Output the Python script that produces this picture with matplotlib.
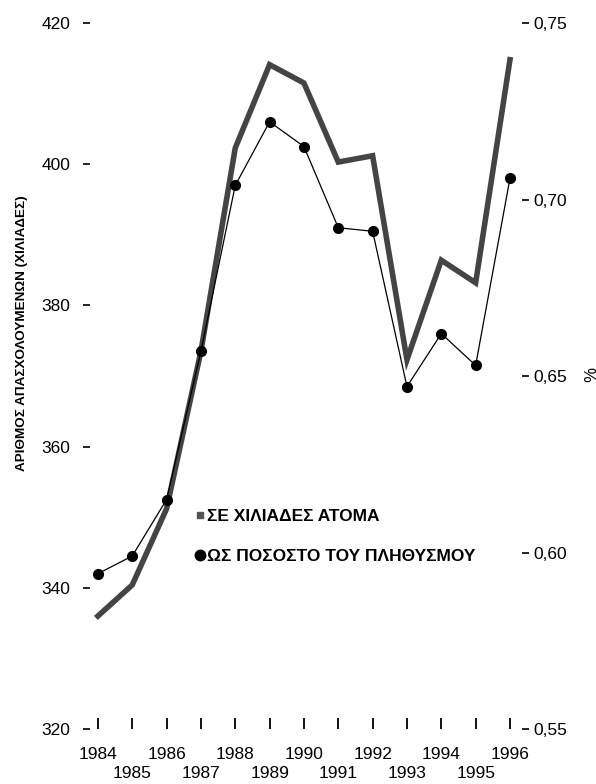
import matplotlib
matplotlib.use("Agg")
import matplotlib.pyplot as plt
from matplotlib.lines import Line2D

years = [1984, 1985, 1986, 1987, 1988, 1989, 1990, 1991, 1992, 1993, 1994, 1995, 1996]
thousands = [336.0, 340.4, 351.2, 373.5, 402.3, 414.1, 411.5, 400.3, 401.2, 372.3, 386.4, 383.2, 414.8]
percent = [0.594, 0.599, 0.615, 0.657, 0.704, 0.722, 0.715, 0.692, 0.691, 0.647, 0.662, 0.653, 0.706]

left_ticks = [320, 340, 360, 380, 400, 420]
right_ticks = [0.55, 0.60, 0.65, 0.70, 0.75]
right_tick_labels = ["0,55", "0,60", "0,65", "0,70", "0,75"]
ylabel = "ΑΡΙΘΜΟΣ ΑΠΑΣΧΟΛΟΥΜΕΝΩΝ (ΧΙΛΙΑΔΕΣ)"
leg1 = "ΣΕ ΧΙΛΙΑΔΕΣ ΑΤΟΜΑ"
leg2 = "ΩΣ ΠΟΣΟΣΤΟ ΤΟΥ ΠΛΗΘΥΣΜΟΥ"

plt.rcParams['font.family'] = ['Liberation Sans', 'DejaVu Sans']

fig = plt.figure(figsize=(5.96, 7.84), dpi=100)
W, H = 596, 784
ax = fig.add_axes([90 / W, 1 - 729 / H, (522 - 90) / W, (729 - 23) / H])
ax2 = ax.twinx()

ax.plot(years, thousands, color='#444444', lw=4.0, solid_joinstyle='miter', zorder=2)
ax2.plot(years, percent, color='black', lw=0.9, marker='o', markersize=7, zorder=3)

ax.set_xlim(1983.77, 1996.35)
ax.set_ylim(320, 420)
ax2.set_ylim(0.55, 0.75)

for a in (ax, ax2):
    for s in a.spines.values():
        s.set_visible(False)

ax.set_yticks(left_ticks)
ax.set_yticklabels([str(v) for v in left_ticks])
ax.tick_params(axis='y', direction='out', length=5, width=1.2, pad=9, labelsize=12.5, colors='black')
ax2.set_yticks(right_ticks)
ax2.set_yticklabels(right_tick_labels)
ax2.tick_params(axis='y', direction='out', length=5, width=1.2, pad=3, labelsize=12.5)

even_years = years[0::2]
odd_years = years[1::2]
ax.set_xticks(even_years)
ax.set_xticklabels([str(y) for y in even_years])
ax.set_xticks(odd_years, minor=True)
ax.set_xticklabels([str(y) for y in odd_years], minor=True)
ax.tick_params(axis='x', which='major', direction='in', length=8, width=1.3, pad=13, labelsize=12.5)
ax.tick_params(axis='x', which='minor', direction='in', length=8, width=1.3, pad=27, labelsize=12.5)

fig.text(22 / W, 1 - 333 / H, ylabel, rotation=90, ha='center', va='center',
         fontsize=9.7, fontweight='bold', family=['Liberation Sans Narrow', 'Liberation Sans', 'DejaVu Sans'])
fig.text(587 / W, 1 - 374 / H, "%", rotation=270, ha='center', va='center', fontsize=12)

handles = [Line2D([], [], color='#555555', marker='s', markersize=4.5, linestyle='none'),
           Line2D([], [], color='black', marker='o', markersize=7.5, linestyle='none')]
leg = fig.legend(handles, [leg1, leg2], loc='upper left', bbox_to_anchor=(196 / W, 1 - 509 / H),
                 frameon=False, handlelength=0.5, handletextpad=0.15, labelspacing=1.45,
                 borderpad=0, borderaxespad=0,
                 prop={'weight': 'bold', 'size': 12.5, 'family': ['Liberation Sans Narrow', 'Liberation Sans', 'DejaVu Sans']})

fig.savefig("out.png", dpi=100)
